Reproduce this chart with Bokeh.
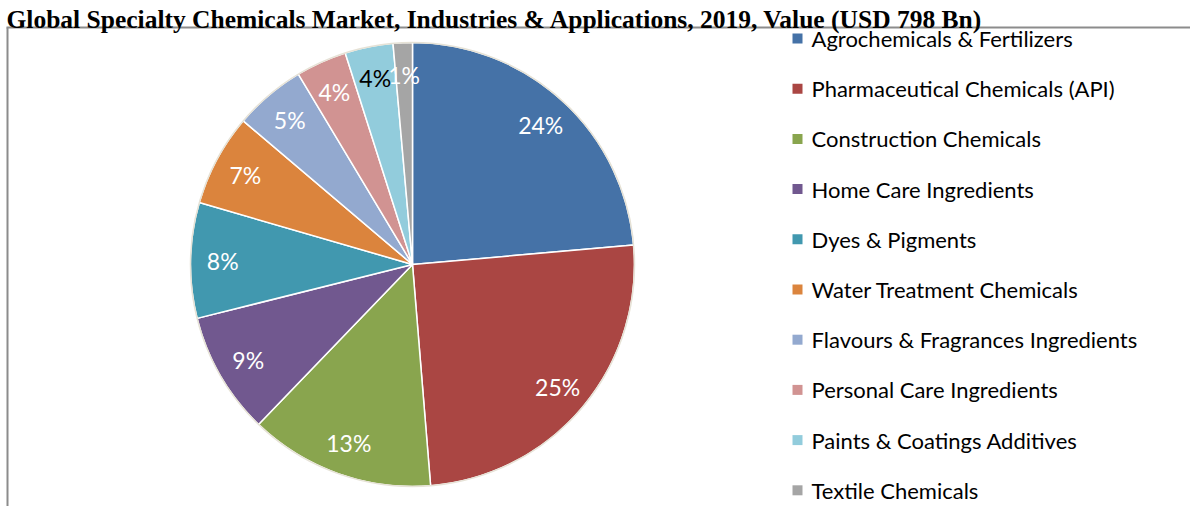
import math
from bokeh.plotting import figure
from bokeh.models import Range1d, ColumnDataSource
from bokeh.core.properties import value
from bokeh.embed import file_html
from bokeh.resources import INLINE

title = "Global Specialty Chemicals Market, Industries & Applications, 2019, Value (USD 798 Bn)"
categories = [
    "Agrochemicals & Fertilizers",
    "Pharmaceutical Chemicals (API)",
    "Construction Chemicals",
    "Home Care Ingredients",
    "Dyes & Pigments",
    "Water Treatment Chemicals",
    "Flavours & Fragrances Ingredients",
    "Personal Care Ingredients",
    "Paints & Coatings Additives",
    "Textile Chemicals",
]
shares = [23.6, 25.1, 13.5, 8.9, 8.4, 6.7, 5.2, 3.7, 3.5, 1.4]
pct_labels = ["24%", "25%", "13%", "9%", "8%", "7%", "5%", "4%", "4%", "1%"]
colors = ["#4572A7", "#AA4643", "#89A54E", "#71588F", "#4198AF",
          "#DB843D", "#93A9CF", "#D19392", "#92CCDC", "#A5A5A5"]
label_colors = ["white"] * 8 + ["black", "white"]

W, H = 1190, 506
p = figure(width=W, height=H, output_backend="svg", toolbar_location=None,
           x_range=Range1d(0, W), y_range=Range1d(0, H), min_border=0)
p.axis.visible = False
p.grid.visible = False
p.outline_line_color = None
p.background_fill_color = "white"

# pie
cx, cy, R = 412, H - 264, 222
total = sum(shares)
starts, ends, lx, ly = [], [], [], []
cum = 0.0
for s in shares:
    a0 = math.pi / 2 - 2 * math.pi * cum / total
    cum += s
    a1 = math.pi / 2 - 2 * math.pi * cum / total
    starts.append(a0)
    ends.append(a1)
    mid = (a0 + a1) / 2
    lx.append(cx + 0.855 * R * math.cos(mid))
    ly.append(cy + 0.855 * R * math.sin(mid))

src = ColumnDataSource(dict(start=starts, end=ends, color=colors, cat=categories,
                            lx=lx, ly=ly, lab=pct_labels, lc=label_colors))
p.wedge(x=cx, y=cy, radius=R, start_angle="start", end_angle="end", direction="clock",
        fill_color="color", line_color="white", line_width=1.5, source=src)
p.circle(x=cx, y=cy, radius=R, fill_color=None, line_color="#E6E2D6", line_width=1.5)
p.text(x="lx", y="ly", text="lab", text_color="lc", text_align="center",
       text_baseline="middle", text_font=value("Lato"), text_font_size="23px", source=src)

# legend (manual)
n = len(categories)
leg_y = [H - 38 - 50.2 * i for i in range(n)]
leg_src = ColumnDataSource(dict(y=leg_y, color=colors, cat=categories))
p.scatter(x=797, y="y", marker="square", size=10, fill_color="color", line_color=None, source=leg_src)
p.text(x=811, y="y", text="cat", text_align="left", text_baseline="middle",
       text_font=value("Lato"), text_font_size="22px", text_color="#000000", source=leg_src)

# frame lines
top_line = H - 27
p.segment(x0=[7, 6], y0=[top_line, top_line], x1=[7, W], y1=[0, top_line],
          line_color="#8C8C8C", line_width=2)

# title
p.text(x=[6], y=[H - 19], text=[title], text_align="left", text_baseline="alphabetic",
       text_font=value("Liberation Serif"), text_font_style="bold", text_font_size="25.5px",
       text_color="black")

open("out.html", "w").write(file_html(p, INLINE))
